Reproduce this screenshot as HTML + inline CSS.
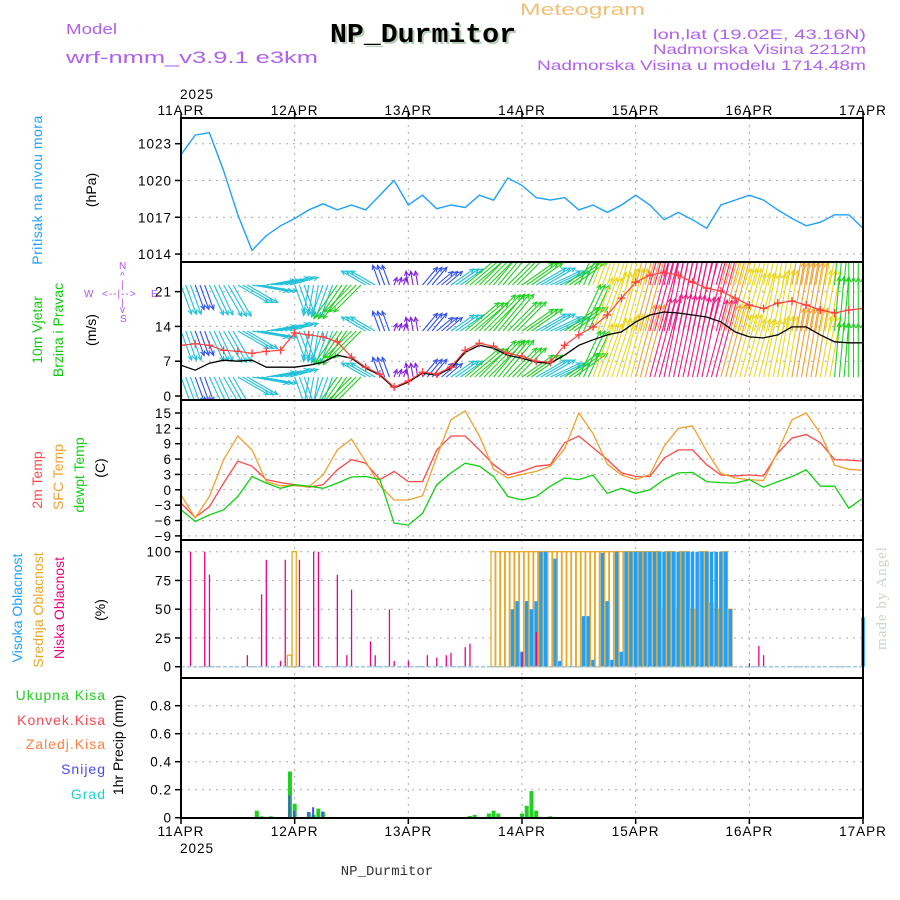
<!DOCTYPE html>
<html><head><meta charset="utf-8"><title>Meteogram NP_Durmitor</title>
<style>
html,body{margin:0;padding:0;background:#fff;}
svg{display:block;font-family:"Liberation Sans",sans-serif;}
.tick{font-size:13.5px;fill:#000;letter-spacing:1px;}
.grid{stroke:#aaa;stroke-width:1;stroke-dasharray:2,5;fill:none;}
</style></head>
<body>
<svg id="chart" width="900" height="900" viewBox="0 0 900 900" xmlns="http://www.w3.org/2000/svg">
<defs>
<clipPath id="clipWind"><rect x="181" y="262" width="682" height="138"/></clipPath>
</defs>
<text x="520" y="15" font-size="17" fill="#f0c078" textLength="125" lengthAdjust="spacingAndGlyphs">Meteogram</text>
<text x="66" y="34" font-size="15" fill="#b060f0" textLength="51" lengthAdjust="spacingAndGlyphs">Model</text>
<text x="66" y="63" font-size="17" fill="#b060f0" textLength="252" lengthAdjust="spacingAndGlyphs">wrf-nmm_v3.9.1 e3km</text>
<text x="332" y="44" font-size="27" font-weight="bold" font-family="Liberation Mono, monospace" fill="#b8d0b8" textLength="186" lengthAdjust="spacingAndGlyphs">NP_Durmitor</text>
<text x="330" y="42" font-size="27" font-weight="bold" font-family="Liberation Mono, monospace" fill="#000" textLength="186" lengthAdjust="spacingAndGlyphs">NP_Durmitor</text>
<text x="866" y="39" font-size="14" fill="#b060f0" text-anchor="end" textLength="213" lengthAdjust="spacingAndGlyphs">lon,lat (19.02E, 43.16N)</text>
<text x="866" y="54" font-size="14" fill="#b060f0" text-anchor="end" textLength="213" lengthAdjust="spacingAndGlyphs">Nadmorska Visina 2212m</text>
<text x="866" y="70" font-size="14" fill="#b060f0" text-anchor="end" textLength="329" lengthAdjust="spacingAndGlyphs">Nadmorska Visina u modelu 1714.48m</text>
<text x="180" y="99" class="tick">2025</text>
<text x="180" y="853" class="tick">2025</text>
<text x="387" y="875" font-size="14" font-family="Liberation Mono, monospace" fill="#333" text-anchor="middle">NP_Durmitor</text>
<text transform="translate(886,598) rotate(-90)" font-size="15" font-family="Liberation Serif, serif" fill="#c8d6c8" text-anchor="middle" letter-spacing="1">made by Angel</text>

<text transform="translate(42,190) rotate(-90)" font-size="14" fill="#1ea0ff" text-anchor="middle" letter-spacing="0.5">Pritisak na nivou mora</text>
<text transform="translate(96,190) rotate(-90)" font-size="14" fill="#000" text-anchor="middle">(hPa)</text>
<text transform="translate(42,330) rotate(-90)" font-size="14" fill="#10c810" text-anchor="middle">10m Vjetar</text>
<text transform="translate(63,330) rotate(-90)" font-size="14" fill="#10c810" text-anchor="middle">Brzina i Pravac</text>
<text transform="translate(96,330) rotate(-90)" font-size="14" fill="#000" text-anchor="middle">(m/s)</text>
<g font-size="10" fill="#b050f0">
<text x="84" y="297">W</text><text x="102" y="297" letter-spacing="1">&lt;--|--&gt;</text><text x="151" y="297">E</text>
<text x="119" y="269">N</text><text x="120" y="279">^</text><text x="121" y="288">|</text><text x="121" y="306">|</text><text x="120" y="313">v</text><text x="120" y="322">S</text>
</g>
<text transform="translate(42,480) rotate(-90)" font-size="14" fill="#ff4848" text-anchor="middle">2m Temp</text>
<text transform="translate(63,477) rotate(-90)" font-size="14" fill="#f0a030" text-anchor="middle">SFC Temp</text>
<text transform="translate(84,475) rotate(-90)" font-size="14" fill="#10d010" text-anchor="middle">dewpt Temp</text>
<text transform="translate(105,468) rotate(-90)" font-size="14" fill="#000" text-anchor="middle">(C)</text>
<text transform="translate(22,608) rotate(-90)" font-size="14" fill="#1ea0ff" text-anchor="middle">Visoka Oblacnost</text>
<text transform="translate(43,610) rotate(-90)" font-size="14" fill="#e8a828" text-anchor="middle">Srednja Oblacnost</text>
<text transform="translate(64,608) rotate(-90)" font-size="14" fill="#f00080" text-anchor="middle">Niska Oblacnost</text>
<text transform="translate(105,610) rotate(-90)" font-size="14" fill="#000" text-anchor="middle">(%)</text>
<g font-size="14" text-anchor="end" letter-spacing="1">
<text x="106" y="700" fill="#20d020">Ukupna Kisa</text>
<text x="106" y="725" fill="#ff4850">Konvek.Kisa</text>
<text x="106" y="749" fill="#ff8040">Zaledj.Kisa</text>
<text x="106" y="774" fill="#4848ff">Snijeg</text>
<text x="106" y="799" fill="#20d0d0">Grad</text>
</g>
<text transform="translate(123,745) rotate(-90)" font-size="14" fill="#000" text-anchor="middle">1hr Precip (mm)</text>
<g id="layer"></g>
</svg>
<script>
// ---- data (3-hourly, 49 points from 11APR 00 to 17APR 00) ----
const dayLabels = ["11APR","12APR","13APR","14APR","15APR","16APR","17APR"];
const pressureTicks = [1014,1017,1020,1023];
const windTicks = [0,7,14,21];
const tempTicks = [-9,-6,-3,0,3,6,9,12,15];
const cloudTicks = [0,25,50,75,100];
const precipTicks = [0,0.2,0.4,0.6,0.8];
const precipTickLabels = ["0","0.2","0.4","0.6","0.8"];
const pressure = [1022.1,1023.7,1023.9,1020.8,1017.2,1014.3,1015.5,1016.3,1016.9,1017.6,1018.1,1017.6,1018.0,1017.6,1018.8,1020.0,1018.0,1018.8,1017.7,1018.0,1017.8,1018.8,1018.4,1020.2,1019.6,1018.6,1018.4,1018.6,1017.6,1018.0,1017.4,1018.0,1018.8,1018.0,1016.8,1017.4,1016.8,1016.1,1018.0,1018.4,1018.8,1018.4,1017.6,1016.9,1016.3,1016.6,1017.2,1017.2,1016.1];
const windSpeed = [6.2,5.2,6.6,7.2,7.0,7.2,5.8,5.8,5.8,6.2,6.8,8.2,7.6,5.6,4.2,1.6,2.8,4.6,4.2,5.6,8.8,10.2,9.6,8.2,7.6,6.8,6.6,8.2,10.2,11.3,12.3,12.9,14.9,16.3,16.9,16.7,16.3,15.9,14.9,12.9,11.9,11.7,12.3,13.9,13.9,12.3,10.9,10.7,10.7];
const windGust = [10.2,10.5,10.2,9.2,9.0,8.6,9.0,9.2,12.7,12.3,11.9,10.9,7.8,5.8,4.4,1.8,3.0,4.8,4.4,5.8,9.2,10.6,10.0,8.6,8.0,7.0,6.8,10.2,12.3,13.9,16.3,19.7,22.9,24.3,24.9,24.3,22.9,21.7,21.1,19.7,18.3,17.6,18.7,19.1,18.3,17.3,16.7,17.3,17.6];
const windDirTo = [160,160,155,150,120,100,80,75,160,190,200,215,225,300,340,20,350,40,50,55,50,45,40,45,55,60,65,55,25,20,18,15,15,15,12,12,12,15,15,15,15,12,10,10,10,10,5,0,0];
const temp2m = [-2.6,-5.4,-3.3,1.3,5.6,4.6,2.0,1.4,1.0,0.5,1.0,3.9,5.9,5.2,2.0,3.6,1.6,1.6,7.8,10.5,10.5,7.8,4.9,2.9,3.6,4.6,4.9,9.2,10.5,8.2,5.9,3.3,2.6,2.6,6.2,7.8,7.8,4.9,2.9,2.7,2.9,2.7,7.2,10.1,10.8,9.2,5.9,5.8,5.6];
const tempSfc = [-1.0,-5.5,-1.3,5.9,10.5,7.8,1.6,0.8,0.8,0.6,2.9,7.8,9.9,5.5,0.8,-2.0,-2.0,-1.2,6.5,13.7,15.4,10.5,4.0,2.3,3.0,3.6,4.6,8.0,15.0,11.0,5.0,2.9,2.0,3.0,8.5,12.0,12.5,7.5,3.2,2.3,2.0,1.8,7.5,13.7,15.0,11.0,4.8,4.0,3.8];
const dewpoint = [-3.9,-6.2,-4.9,-3.9,-1.3,2.6,1.3,0.3,1.0,0.7,0.3,1.3,2.5,2.6,2.0,-6.5,-6.9,-4.6,1.0,3.3,5.2,4.6,2.6,-1.3,-2.0,-1.3,0.7,2.3,2.0,2.9,-0.7,0.3,-0.7,0.0,2.0,3.3,3.4,1.6,1.4,1.3,2.0,0.5,1.6,2.6,3.9,0.7,0.7,-3.6,-1.6];
// ---- hourly data (145 points) ----
const cloudLow = [0,0,100,0,0,100,80,0,0,0,0,0,0,0,10,0,0,63,93,0,0,5,93,0,
 0,93,0,0,100,100,0,0,0,80,0,10,67,0,0,0,22,10,0,0,50,5,0,0,
 5,0,0,0,10,0,8,0,10,12,0,0,17,20,0,0,0,0,0,0,0,0,0,0,
 13,0,0,30,0,0,0,0,0,0,0,0,0,0,0,0,0,0,0,0,0,0,0,0,
 0,0,0,0,0,0,0,0,0,0,0,0,0,0,0,0,0,0,0,0,0,0,0,0,
 3,0,18,10,0,0,0,0,0,0,0,0,0,0,0,0,0,0,0,0,0,0,0,0,0];
const cloudMid = [0,0,0,0,0,0,0,0,0,0,0,0,0,0,0,0,0,0,0,0,0,0,0,10,
 100,0,0,0,0,0,0,0,0,0,0,0,0,0,0,0,0,0,0,0,0,0,0,0,
 0,0,0,0,0,0,0,0,0,0,0,0,0,0,0,0,0,0,100,100,100,100,100,100,
 100,100,100,100,100,100,100,100,100,100,100,100,100,100,100,100,100,100,100,100,100,100,100,100,
 100,100,100,100,100,100,50,100,100,50,100,100,50,50,100,100,55,50,50,100,50,0,0,0,
 0,0,0,0,0,0,0,0,0,0,0,0,0,0,0,0,0,0,0,0,0,0,0,0,0];
const cloudHigh = [0,0,0,0,0,0,0,0,0,0,0,0,0,0,0,0,0,0,0,0,0,0,0,0,
 0,0,0,0,0,0,0,0,0,0,0,0,0,0,0,0,0,0,0,0,0,0,0,0,
 0,0,0,0,0,0,0,0,0,0,0,0,0,0,0,0,0,0,0,0,0,0,50,57,
 13,57,50,57,100,100,0,94,5,0,0,0,0,44,44,6,0,99,57,6,100,13,100,100,
 100,100,100,100,100,100,100,100,100,100,100,100,100,100,100,100,100,100,100,100,50,0,0,0,
 0,0,0,0,0,0,0,0,0,0,0,0,0,0,0,0,0,0,0,0,0,0,0,0,43];
const precipTotal = [0,0,0,0,0,0,0,0,0,0,0,0,0,0,0,0,0.05,0.01,0,0.01,0,0,0,0.33,
 0.10,0,0,0.04,0.02,0.065,0.04,0,0,0,0,0,0,0,0,0,0,0,0,0,0,0,0,0,
 0,0,0,0,0,0,0,0,0,0,0,0,0,0.012,0.02,0,0,0.03,0.05,0.03,0,0,0,0,
 0.03,0.085,0.19,0.05,0,0,0.01,0,0,0,0,0,0,0,0,0,0,0,0,0,0,0,0,0,
 0,0,0,0,0,0,0,0,0,0,0,0,0,0,0,0,0,0,0,0,0,0,0,0,
 0,0,0,0,0,0,0,0,0,0,0,0,0,0,0,0,0,0,0,0,0,0,0,0,0];
const precipSnow = [0,0,0,0,0,0,0,0,0,0,0,0,0,0,0,0,0,0,0,0,0,0,0,0.16,
 0.05,0,0,0.04,0.075,0,0.045,0,0,0,0,0,0,0,0,0,0,0,0,0,0,0,0,0,
 0,0,0,0,0,0,0,0,0,0,0,0,0,0,0,0,0,0,0,0,0,0,0,0,
 0,0,0,0,0,0,0,0,0,0,0,0,0,0,0,0,0,0,0,0,0,0,0,0,
 0,0,0,0,0,0,0,0,0,0,0,0,0,0,0,0,0,0,0,0,0,0,0,0,
 0,0,0,0,0,0,0,0,0,0,0,0,0,0,0,0,0,0,0,0,0,0,0,0,0];

// ---- scales ----
const NS='http://www.w3.org/2000/svg';
const layer=document.getElementById('layer');
const X0=181, X1=863;
function xH(h){return X0+(X1-X0)*h/144;}
function yP(p){return 143.7+(1023-p)*12.26;}
function yW(s){return 396-s*4.97;}
function yT(t){return 413+(15-t)*5.12;}
function yC(c){return 666.7-c*1.15;}
function yR(r){return 817.7-r*140;}
function mk(tag,attrs,parent){const e=document.createElementNS(NS,tag);for(const k in attrs)e.setAttribute(k,attrs[k]);(parent||layer).appendChild(e);return e;}
const panels=[{top:118,bot:262,ticks:pressureTicks,labels:pressureTicks.map(String),f:yP,name:'pressure'},
 {top:262,bot:400,ticks:windTicks,labels:windTicks.map(String),f:yW,name:'wind'},
 {top:400,bot:540,ticks:tempTicks,labels:tempTicks.map(v=>v<0?'\u2212'+(-v):String(v)),f:yT,name:'temp'},
 {top:540,bot:678,ticks:cloudTicks,labels:cloudTicks.map(String),f:yC,name:'cloud'},
 {top:678,bot:818,ticks:precipTicks,labels:precipTickLabels,f:yR,name:'precip'}];
panels.forEach(p=>{
  const g=mk('g',{});
  
  
  for(let d=1;d<6;d++){mk('line',{x1:xH(d*24),x2:xH(d*24),y1:p.top,y2:p.bot,class:'grid'},g);}
  p.ticks.forEach((t,i)=>{
    const y=p.f(t);
    mk('line',{x1:X0,x2:X1,y1:y,y2:y,class:'grid'},g);
    mk('line',{x1:175,x2:X0,y1:y,y2:y,stroke:'#000','stroke-width':1.5},g);
    const tx=mk('text',{x:172,y:y+5,'text-anchor':'end',class:'tick'},g);
    tx.textContent=p.labels[i];
    
    
  });
});
dayLabels.forEach((d,i)=>{
  const x=xH(i*24);
  mk('line',{x1:x,x2:x,y1:112,y2:118,stroke:'#000','stroke-width':1.5});
  mk('line',{x1:x,x2:x,y1:818,y2:824,stroke:'#000','stroke-width':1.5});
  const t1=mk('text',{x:x,y:115,'text-anchor':'middle',class:'tick'});
  t1.textContent=d;
  
  
  const t2=mk('text',{x:x,y:836,'text-anchor':'middle',class:'tick'});
  t2.textContent=d;
  
  
});
function line3h(arr,f,color,name,w,parent){
  const pts=arr.map((v,i)=>xH(i*3).toFixed(1)+','+f(v).toFixed(1)).join(' ');
  const e=mk('polyline',{points:pts,fill:'none',stroke:color,'stroke-width':w||1.3},parent);
  
  
  return e;
}
line3h(pressure,yP,'#1ea0ff','pressure-line',1.4);
const wg=mk('g',{'clip-path':'url(#clipWind)'});


function windColor(s){if(s<3.5)return '#8020e0';if(s<5.5)return '#3050f0';if(s<7.5)return '#20c0d8';if(s<11)return '#20d020';if(s<13)return '#e8d820';if(s<15)return '#f0a030';return '#f01880';}
const rows=[285,331,377];
for(let h=0;h<=144;h++){
  const i=Math.min(48,Math.floor(h/3));
  const s=windSpeed[i], a=windDirTo[i]*Math.PI/180, L=s*5;
  const c=windColor(s);
  rows.forEach(y0=>{
    const x0=xH(h), x1=x0+L*Math.sin(a), y1=y0-L*Math.cos(a);
    mk('line',{x1:x0,y1:y0,x2:x1,y2:y1,stroke:c,'stroke-width':1.1},wg);
    const b=a+Math.PI, hl=5;
    mk('polyline',{points:(x1+hl*Math.sin(b-0.45))+','+(y1-hl*Math.cos(b-0.45))+' '+x1+','+y1+' '+(x1+hl*Math.sin(b+0.45))+','+(y1-hl*Math.cos(b+0.45)),fill:'none',stroke:c,'stroke-width':1.1},wg);
  });
}
const wl=mk('g',{'clip-path':'url(#clipWind)'});
line3h(windSpeed,yW,'#000','wind-speed-line',1.3,wl);
line3h(windGust,yW,'#ff4040','wind-gust-line',1.2,wl);
windGust.forEach((v,i)=>{
  const x=xH(i*3), y=yW(v);
  const m=mk('path',{d:'M'+(x-4)+' '+y+'h8M'+x+' '+(y-4)+'v8',stroke:'#ff4040','stroke-width':1.3},wl);
  
  
});
line3h(temp2m,yT,'#ff4848','temp-2m-line',1.3);
line3h(tempSfc,yT,'#f0a030','temp-sfc-line',1.3);
line3h(dewpoint,yT,'#10d010','dewpoint-line',1.3);
const cg=mk('g',{});


for(let h=0;h<=144;h++){
  const x=xH(h);
  if(cloudMid[h]>0){const r=mk('rect',{x:x-2.6,y:yC(cloudMid[h]),width:4.2,height:yC(0)-yC(cloudMid[h]),fill:'#fff',stroke:'#e8a828','stroke-width':1.3},cg);
    
    }
  if(cloudHigh[h]>0){const r=mk('rect',{x:x-1.8,y:yC(cloudHigh[h]),width:3.6,height:yC(0)-yC(cloudHigh[h]),fill:'#1ea0ff'},cg);
    
    }
  if(cloudLow[h]>0){const r=mk('rect',{x:x-0.6,y:yC(cloudLow[h]),width:1.3,height:yC(0)-yC(cloudLow[h]),fill:'#f00080'},cg);
    
    }
}
mk('line',{x1:X0,x2:X1,y1:yC(0),y2:yC(0),stroke:'#9cc8e8','stroke-width':1.5,'stroke-dasharray':'4,2'});
const pg=mk('g',{});


for(let h=0;h<=144;h++){
  const x=xH(h);
  if(precipTotal[h]>0){const r=mk('rect',{x:x-2,y:yR(precipTotal[h]),width:4,height:yR(0)-yR(precipTotal[h]),fill:'#20d020'},pg);
    
    }
  if(precipSnow[h]>0){const r=mk('rect',{x:x-1.5,y:yR(precipSnow[h]),width:2,height:yR(0)-yR(precipSnow[h]),fill:'#4848ff'},pg);
    
    }
}
panels.forEach(p=>{
  const r=mk('rect',{x:X0,y:p.top,width:X1-X0,height:p.bot-p.top,fill:'none',stroke:'#000','stroke-width':2});
  
  
});
</script>
</body></html>
